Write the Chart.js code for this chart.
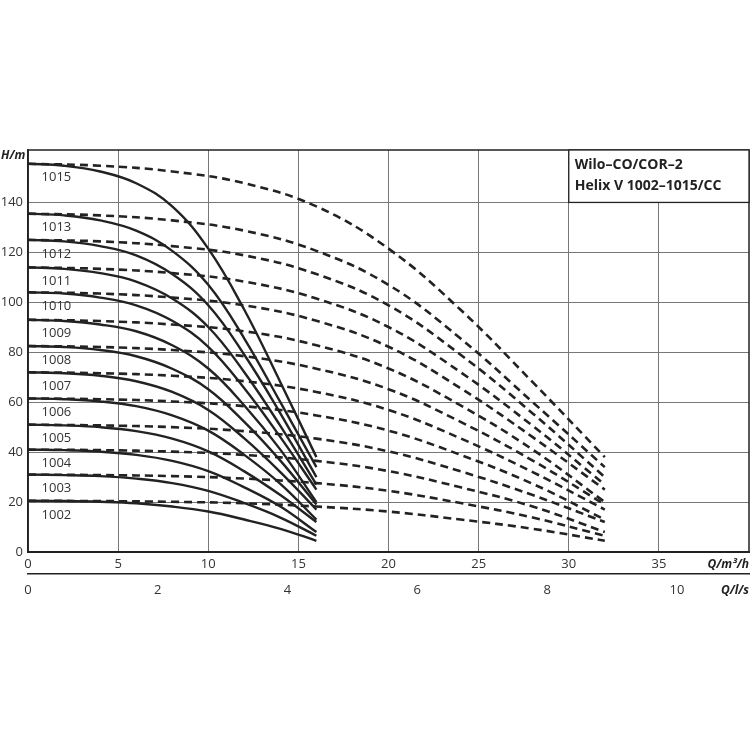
<!DOCTYPE html>
<html>
<head>
<meta charset="utf-8">
<script src="https://cdn.jsdelivr.net/npm/chart.js@4/dist/chart.umd.min.js"></script>
<style>
  html, body { margin: 0; padding: 0; background: #fff; }
  #wrap { width: 750px; height: 750px; }
</style>
</head>
<body>
<div id="wrap"><canvas id="pumpChart"></canvas></div>
<script>
// flow points of a single pump, m³/h
const flowSingle = [0, 2, 4, 6, 8, 10, 12, 14, 16];

// head values (m) per pump type
const pumpNames = ["1002", "1003", "1004", "1005", "1006", "1007", "1008", "1009", "1010", "1011", "1012", "1013", "1015"];
const head1002 = [20.5, 20.4, 20.1, 19.5, 18.2, 16.2, 13.0, 9.3, 4.5];
const head1003 = [31, 30.8, 30.4, 29.4, 27.6, 24.5, 19.6, 13.8, 6.5];
const head1004 = [41, 40.8, 40.2, 38.9, 36.5, 32.4, 25.9, 18.2, 8];
const head1005 = [51, 50.7, 50, 48.4, 45.4, 40.3, 32.3, 22.8, 12];
const head1006 = [61.5, 61.2, 60.3, 58.4, 54.7, 48.6, 38.9, 27.3, 13];
const head1007 = [72, 71.6, 70.6, 68.4, 64.1, 56.9, 45.5, 32.0, 17];
const head1008 = [82.5, 82.1, 80.9, 78.4, 73.4, 65.2, 52.1, 36.6, 19];
const head1009 = [93, 92.5, 91.1, 88.4, 82.8, 73.5, 58.7, 41.0, 20];
const head1010 = [104, 103.5, 101.9, 98.8, 92.6, 82.2, 65.6, 46.0, 25];
const head1011 = [114, 113.4, 111.7, 108.3, 101.5, 90.1, 72.0, 50.5, 27];
const head1012 = [125, 124.4, 122.5, 118.8, 111.3, 98.8, 79.0, 55.5, 30];
const head1013 = [135.5, 134.8, 132.8, 128.7, 120.6, 107, 85.5, 60.0, 34];
const head1015 = [155.5, 154.7, 152.4, 147.7, 138.4, 121.5, 97.0, 68.0, 38];
const heads = [head1002, head1003, head1004, head1005, head1006, head1007, head1008,
               head1009, head1010, head1011, head1012, head1013, head1015];

const qTicks = [0, 5, 10, 15, 20, 25, 30, 35];
const lsTicks = [0, 2, 4, 6, 8, 10];
const hTicks = [0, 20, 40, 60, 80, 100, 120, 140];

const ink = "#222";
const fontFamily = "'Open Sans', 'DejaVu Sans', sans-serif";

const datasets = [];
heads.forEach((h) => {
  // two pumps in parallel: same head at twice the flow
  datasets.push({
    data: flowSingle.map((q, i) => ({ x: q * 2, y: h[i] })),
    borderColor: ink,
    borderWidth: 2.6,
    borderDash: [8, 5],
    pointRadius: 0,
    tension: 0.4,
    fill: false,
  });
  datasets.push({
    data: flowSingle.map((q, i) => ({ x: q, y: h[i] })),
    borderColor: ink,
    borderWidth: 2.4,
    pointRadius: 0,
    tension: 0.4,
    fill: false,
  });
});

const decorations = {
  id: "decorations",
  afterDraw(chart) {
    const { ctx, chartArea: a, scales } = chart;
    const x = scales.x, y = scales.y;
    ctx.save();
    // frame
    ctx.strokeStyle = ink;
    ctx.lineWidth = 1.5;
    ctx.strokeRect(a.left, a.top, a.right - a.left, a.bottom - a.top);

    // curve labels
    ctx.fillStyle = "#333";
    ctx.font = "13px " + fontFamily;
    ctx.textAlign = "left";
    ctx.textBaseline = "middle";
    heads.forEach((h, i) => {
      ctx.fillText(pumpNames[i], x.getPixelForValue(0.75), y.getPixelForValue(h[0]) + 14);
    });

    // title box
    const bx = x.getPixelForValue(30), by = y.getPixelForValue(140);
    ctx.fillStyle = "#fff";
    ctx.fillRect(bx, a.top, a.right - bx, by - a.top);
    ctx.strokeStyle = ink;
    ctx.lineWidth = 1.3;
    ctx.strokeRect(bx, a.top, a.right - bx, by - a.top);
    ctx.fillStyle = ink;
    ctx.font = "bold 14px " + fontFamily;
    ctx.fillText("Wilo\u2013CO/COR\u20132", bx + 6, a.top + 15);
    ctx.fillText("Helix V 1002\u20131015/CC", bx + 6, a.top + 36);

    // axis titles
    ctx.font = "italic bold 12px " + fontFamily;
    ctx.textAlign = "left";
    ctx.fillText("H/m", 1, a.top + 6);
    ctx.textAlign = "right";
    ctx.fillText("Q/m\u00b3/h", a.right, a.bottom + 13);
    ctx.fillText("Q/l/s", a.right, scales.x2.top + 17);
    ctx.restore();
  },
};

new Chart(document.getElementById("pumpChart"), {
  type: "line",
  data: { datasets: datasets },
  options: {
    responsive: true,
    maintainAspectRatio: false,
    animation: false,
    layout: { padding: { top: 150, right: 1, bottom: 148, left: 0 } },
    plugins: { legend: { display: false }, tooltip: { enabled: false } },
    scales: {
      x: {
        type: "linear",
        min: 0,
        max: 40,
        afterBuildTicks: (s) => { s.ticks = qTicks.map((v) => ({ value: v })); },
        afterFit: (s) => { s.height = 22; },
        grid: { color: "#777", lineWidth: 1, drawTicks: false },
        border: { color: ink, width: 2 },
        ticks: { color: "#333", font: { family: fontFamily, size: 13 }, padding: 4 },
      },
      x2: {
        type: "linear",
        position: "bottom",
        min: 0,
        max: 40 / 3.6,
        afterBuildTicks: (s) => { s.ticks = lsTicks.map((v) => ({ value: v })); },
        afterFit: (s) => { s.height = 28; },
        grid: { display: false, drawTicks: false },
        border: { color: ink, width: 1.5 },
        ticks: { color: "#333", font: { family: fontFamily, size: 13 }, padding: 8 },
      },
      y: {
        type: "linear",
        min: 0,
        max: 161,
        afterBuildTicks: (s) => { s.ticks = hTicks.map((v) => ({ value: v })); },
        afterFit: (s) => { s.width = 28; },
        grid: { color: "#777", lineWidth: 1, drawTicks: false },
        border: { color: ink, width: 1.5 },
        ticks: { color: "#333", font: { family: fontFamily, size: 13 }, padding: 5 },
      },
    },
  },
  plugins: [decorations],
});
</script>
</body>
</html>
